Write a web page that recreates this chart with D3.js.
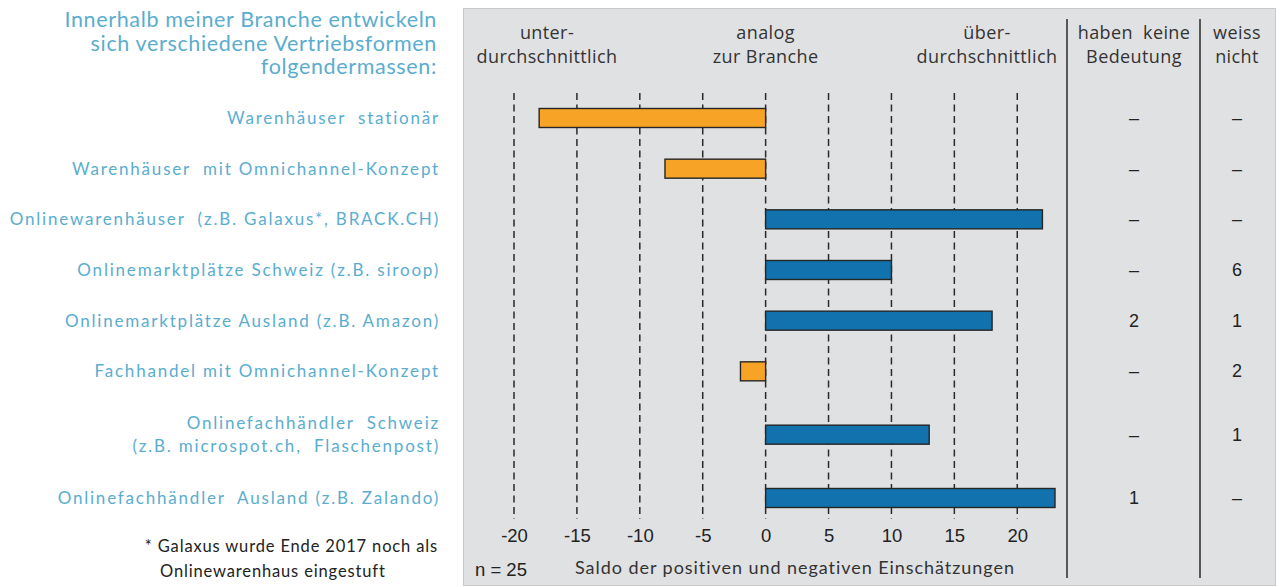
<!DOCTYPE html>
<html>
<head>
<meta charset="utf-8">
<script src="https://cdn.jsdelivr.net/npm/d3@7"></script>
<style>
  body { margin: 0; background: #fff; }
  text { white-space: pre; }
</style>
</head>
<body>
<div id="chart"></div>
<script>
// data
const categories = [
    ["Warenhäuser  stationär"],
    ["Warenhäuser  mit Omnichannel-Konzept"],
    ["Onlinewarenhäuser  (z.B. Galaxus*, BRACK.CH)"],
    ["Onlinemarktplätze Schweiz (z.B. siroop)"],
    ["Onlinemarktplätze Ausland (z.B. Amazon)"],
    ["Fachhandel mit Omnichannel-Konzept"],
    ["Onlinefachhändler  Schweiz", "(z.B. microspot.ch,  Flaschenpost)"],
    ["Onlinefachhändler  Ausland (z.B. Zalando)"]
];
const saldo = [-18, -8, 22, 10, 18, -2, 13, 23];
const keineBedeutung = ["–", "–", "–", "–", "2", "–", "–", "1"];
const weissNicht = ["–", "–", "–", "6", "1", "2", "1", "–"];
const xTicks = [-20, -15, -10, -5, 0, 5, 10, 15, 20];

const W = 1280, H = 587;
const labelFont = "Lato, 'Open Sans', sans-serif";
const headFont = "'Open Sans', sans-serif";
const numFont = "'Liberation Sans', Arial, sans-serif";
const blueText = "#5aadcf";

const svg = d3.select("#chart").append("svg")
    .attr("width", W)
    .attr("height", H);

// panel
svg.append("rect")
    .attr("x", 463.5).attr("y", 8.5)
    .attr("width", 812).attr("height", 577)
    .attr("fill", "#e0e1e3")
    .attr("stroke", "#c9c9c9");

// scales
var x = d3.scaleLinear()
    .domain([-20, 23])
    .range([514, 1055]);

// row positions: two-line labels take a bit more room
let units = [];
let acc = 0;
categories.forEach((c) => {
    let h = c.length > 1 ? 3 : 2;
    units.push(acc + h / 2);
    acc += h;
});
var y = d3.scaleLinear()
    .domain([units[0], units[units.length - 1]])
    .range([118, 498]);

var colKeine = 1134, colWeiss = 1237;

// dashed grid
svg.append("g")
    .selectAll("line")
    .data(xTicks)
    .enter()
    .append("line")
        .attr("x1", d => x(d)).attr("x2", d => x(d))
        .attr("y1", 93).attr("y2", 519)
        .attr("stroke", "#2a2a2a")
        .attr("stroke-width", 1.5)
        .attr("stroke-dasharray", "7,4.5");

// separators
svg.append("g")
    .selectAll("line")
    .data([1067, 1200])
    .enter()
    .append("line")
        .attr("x1", d => d).attr("x2", d => d)
        .attr("y1", 19).attr("y2", 578)
        .attr("stroke", "#2a2a2a")
        .attr("stroke-width", 1.5);

// bars
svg.append("g")
    .selectAll("rect")
    .data(saldo)
    .enter()
    .append("rect")
        .attr("x", d => x(Math.min(0, d)))
        .attr("y", (d, i) => y(units[i]) - 9.5)
        .attr("width", d => Math.abs(x(d) - x(0)))
        .attr("height", 19)
        .attr("fill", d => d < 0 ? "#f7a426" : "#1172ae")
        .attr("stroke", "#262626")
        .attr("stroke-width", 1.4);

// x axis
svg.append("g")
    .attr("transform", "translate(0,524)")
    .call(d3.axisBottom(x).tickValues(xTicks).tickSize(0).tickPadding(5).tickFormat(d => String(d)))
    .call(g => g.select(".domain").remove())
    .selectAll("text")
        .attr("font-family", numFont)
        .attr("font-size", "18.5px")
        .attr("fill", "#222");

// row labels
let labels = svg.append("g")
    .attr("font-family", labelFont)
    .attr("font-size", "17px")
    .attr("fill", blueText)
    .attr("text-anchor", "end");

categories.forEach((c, i) => {
    let cy = y(units[i]);
    c.forEach((line, j) => {
        labels.append("text")
            .attr("x", 440)
            .attr("y", cy + 6 + (j - (c.length - 1) / 2) * 23)
            .attr("letter-spacing", "1.8px")
            .text(line);
    });
});

// side columns
let cols = svg.append("g")
    .attr("font-family", numFont)
    .attr("font-size", "18px")
    .attr("fill", "#222")
    .attr("text-anchor", "middle");

keineBedeutung.forEach((v, i) => {
    cols.append("text").attr("x", colKeine).attr("y", y(units[i]) + 6).text(v);
});
weissNicht.forEach((v, i) => {
    cols.append("text").attr("x", colWeiss).attr("y", y(units[i]) + 6).text(v);
});

// headers
let head = svg.append("g")
    .attr("font-family", headFont)
    .attr("font-size", "18px")
    .attr("letter-spacing", "0.4px")
    .attr("fill", "#333")
    .attr("text-anchor", "middle");

[
    [547, ["unter-", "durchschnittlich"]],
    [x(0), ["analog", "zur Branche"]],
    [987, ["über-", "durchschnittlich"]],
    [colKeine, ["haben  keine", "Bedeutung"]],
    [colWeiss, ["weiss", "nicht"]]
].forEach(([hx, lines]) => {
    lines.forEach((t, j) => {
        head.append("text").attr("x", hx).attr("y", 39 + j * 24).text(t);
    });
});

// title
let title = svg.append("g")
    .attr("font-family", labelFont)
    .attr("font-size", "21.5px")
    .attr("letter-spacing", "0.65px")
    .attr("fill", blueText)
    .attr("text-anchor", "end");

["Innerhalb meiner Branche entwickeln", "sich verschiedene Vertriebsformen", "folgendermassen:"]
    .forEach((t, j) => {
        title.append("text").attr("x", 437).attr("y", 27 + j * 23.5).text(t);
    });

// bottom texts
svg.append("text")
    .attr("x", 475).attr("y", 576)
    .attr("font-family", numFont)
    .attr("font-size", "18.5px")
    .attr("fill", "#222")
    .text("n = 25");

svg.append("text")
    .attr("x", 575).attr("y", 574)
    .attr("font-family", labelFont)
    .attr("font-size", "18px")
    .attr("letter-spacing", "0.95px")
    .attr("fill", "#333")
    .text("Saldo der positiven und negativen Einschätzungen");

svg.append("text")
    .attr("x", 438).attr("y", 552)
    .attr("text-anchor", "end")
    .attr("font-family", labelFont)
    .attr("font-size", "16.5px")
    .attr("letter-spacing", "0.85px")
    .attr("fill", "#222")
    .text("* Galaxus wurde Ende 2017 noch als");

svg.append("text")
    .attr("x", 160).attr("y", 577)
    .attr("font-family", labelFont)
    .attr("font-size", "16.5px")
    .attr("letter-spacing", "0.85px")
    .attr("fill", "#222")
    .text("Onlinewarenhaus eingestuft");
</script>
</body>
</html>
